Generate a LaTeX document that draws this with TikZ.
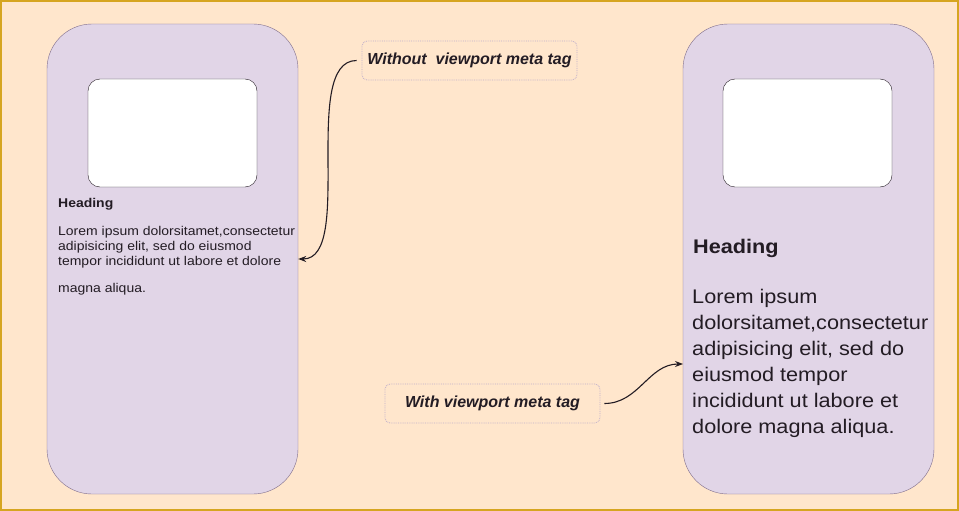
\documentclass[tikz,border=0pt]{standalone}
\usepackage{fontspec}
\setmainfont{Liberation Sans}
\newfontfamily\bodyfont[FakeStretch=1.1]{Liberation Sans}
\newfontfamily\tagfont{Liberation Sans}
\usetikzlibrary{arrows.meta}
\definecolor{peach}{HTML}{FFE6CC}
\definecolor{frameline}{HTML}{D6A520}
\definecolor{phonefill}{HTML}{E1D5E7}
\definecolor{phoneline}{HTML}{7E6C8A}
\definecolor{tagline}{HTML}{BFAECB}
\definecolor{ink}{HTML}{231C24}
\tikzset{
  phone/.style={draw=phoneline, fill=phonefill, rounded corners=45pt, minimum width=251pt, minimum height=470pt, inner sep=0pt},
  screen/.style={draw=ink, fill=white, rounded corners=12pt, minimum width=169pt, minimum height=108pt, inner sep=0pt},
  tagbox/.style={draw=tagline, densely dotted, line width=0.8pt, rounded corners=5pt, minimum width=215pt, minimum height=39pt, inner sep=0pt, text=ink, font=\tagfont\fontsize{16}{18}\selectfont\bfseries\itshape},
  small/.style={anchor=base west, inner sep=0pt, text=ink, font=\bodyfont\fontsize{12.7}{14}\selectfont},
  large/.style={anchor=base west, inner sep=0pt, text=ink, font=\bodyfont\fontsize{19.7}{22}\selectfont},
  pointer/.style={draw=ink, line width=1.1pt, -{Stealth[length=8pt,width=6pt]}}
}
\begin{document}
\begin{tikzpicture}[x=1pt,y=-1pt]
\useasboundingbox (0,0) rectangle (959,511);
\path[fill=peach, draw=frameline, line width=2pt] (1,1) rectangle (958,510);

\node[phone] (lphone) at (172.5,259) {};
\node[phone] (rphone) at (808.5,259) {};
\node[screen] (lscreen) at (172.5,133) {};
\node[screen] (rscreen) at (807.5,133) {};

\node[small, font=\bodyfont\fontsize{12.7}{14}\selectfont\bfseries] (lhead) at (58,207) {Heading};
\node[small] (lline1) at (58,235) {Lorem ipsum dolorsitamet,consectetur};
\node[small] (lline2) at (58,250) {adipisicing elit, sed do eiusmod};
\node[small] (lline3) at (58,265) {tempor incididunt ut labore et dolore};
\node[small] (lline4) at (58,292) {magna aliqua.};

\node[large, font=\bodyfont\fontsize{19.7}{22}\selectfont\bfseries] (rhead) at (693,253) {Heading};
\node[large] (rline1) at (692,303) {Lorem ipsum};
\node[large] (rline2) at (692,329) {dolorsitamet,consectetur};
\node[large] (rline3) at (692,355) {adipisicing elit, sed do};
\node[large] (rline4) at (692,381) {eiusmod tempor};
\node[large] (rline5) at (692,407) {incididunt ut labore et};
\node[large] (rline6) at (692,433) {dolore magna aliqua.};

\node[tagbox] (without) at (469.5,60.5) {Without\ \ viewport meta tag};
\node[tagbox] (with) at (492.5,403.5) {With viewport meta tag};
\coordinate (rtip) at (683,364);

\path[pointer] ([xshift=-5pt]without.west) to[out=180,in=0,looseness=0.7] (lphone.east);
\path[pointer] ([xshift=4pt]with.east) to[out=0,in=180] (rtip);
\end{tikzpicture}
\end{document}
